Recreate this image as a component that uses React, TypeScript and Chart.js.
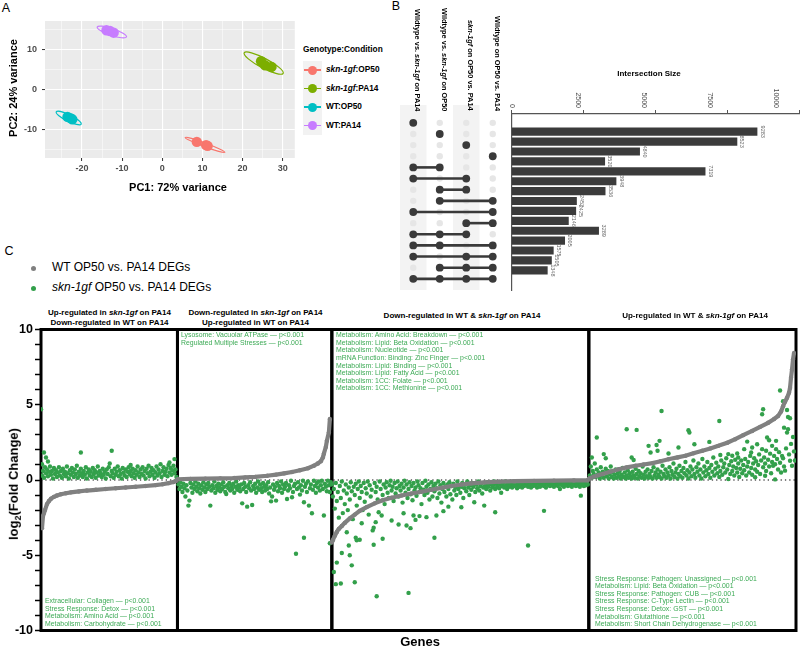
import React, { useEffect, useRef } from "react";
import { Chart, registerables } from "chart.js";

Chart.register(...registerables);

const FONT = '"Liberation Sans", Arial, Helvetica, sans-serif';

// ---------------- Panel A : PCA ----------------
const PCA_GROUPS = ["skn-1gf:OP50", "skn-1gf:PA14", "WT:OP50", "WT:PA14"];
const PCA_COLORS = ["#F8766D", "#7CAE00", "#00BFC4", "#C77CFF"];
const PCA_PC1 = [
  [8.6, 10.9, 11.3],
  [24.6, 25.6, 27.2],
  [-23.6, -22.9, -22.4],
  [-13.9, -13.0, -12.1],
];
const PCA_PC2 = [
  [-13.0, -13.8, -14.0],
  [7.0, 6.0, 5.6],
  [-6.8, -7.1, -7.4],
  [14.7, 14.5, 14.1],
];
// confidence ellipses: major-axis end points and half minor width (data units)
const ELLIPSE_X1 = [5.7, 20.4, -26.4, -16.2];
const ELLIPSE_Y1 = [-11.9, 9.1, -5.55, 15.5];
const ELLIPSE_X2 = [15.6, 30.1, -20.2, -8.9];
const ELLIPSE_Y2 = [-15.6, 4.0, -8.6, 13.05];
const ELLIPSE_HALF_WIDTH = [0.45, 1.2, 0.8, 0.85];
const PC1_RANGE = [-29.2, 33];
const PC2_RANGE = [-17, 17];

// ---------------- Panel B : UpSet ----------------
const SET_NAMES = [
  "Wildtype vs. skn-1gf on PA14",
  "Wildtype vs. skn-1gf on OP50",
  "skn-1gf on OP50 vs. PA14",
  "Wildtype on OP50 vs. PA14",
];
const INTERSECTION_SIZES = [9283, 8523, 4840, 3520, 7319, 3948, 3536, 2452, 2425, 2146, 3289, 2005, 1575, 1505, 1348];
const INTERSECTION_SETS = [
  [1], [2], [3], [4],
  [1, 2], [1, 3], [2, 3], [2, 4], [1, 4], [3, 4],
  [1, 2, 3], [1, 2, 4], [1, 3, 4], [2, 3, 4], [1, 2, 3, 4],
];
const SIZE_TICKS = [0, 2500, 5000, 7500, 10000];

// ---------------- Panel C : DEG rank plot ----------------
const REGION_BOUNDS = [0, 137, 292, 550, 758];
const REGION_TITLES = [
  ["Up-regulated in skn-1gf on PA14", "Down-regulated in WT on PA14"],
  ["Down-regulated in skn-1gf on PA14", "Up-regulated in WT on PA14"],
  ["Down-regulated in WT & skn-1gf on PA14"],
  ["Up-regulated in WT & skn-1gf on PA14"],
];
const REGION_TERMS = [
  ["Extracellular: Collagen — p<0.001", "Stress Response: Detox — p<0.001", "Metabolism: Amino Acid — p<0.001", "Metabolism: Carbohydrate — p<0.001"],
  ["Lysosome: Vacuolar ATPase — p<0.001", "Regulated Multiple Stresses — p<0.001"],
  [
    "Metabolism: Amino Acid: Breakdown — p<0.001",
    "Metabolism: Lipid: Beta Oxidation — p<0.001",
    "Metabolism: Nucleotide — p<0.001",
    "mRNA Function: Binding: Zinc Finger — p<0.001",
    "Metabolism: Lipid: Binding — p<0.001",
    "Metabolism: Lipid: Fatty Acid — p<0.001",
    "Metabolism: 1CC: Folate — p<0.001",
    "Metabolism: 1CC: Methionine — p<0.001",
  ],
  [
    "Stress Response: Pathogen: Unassigned — p<0.001",
    "Metabolism: Lipid: Beta Oxidation — p<0.001",
    "Stress Response: Pathogen: CUB — p<0.001",
    "Stress Response: C-Type Lectin — p<0.001",
    "Stress Response: Detox: GST — p<0.001",
    "Metabolism: Glutathione — p<0.001",
    "Metabolism: Short Chain Dehydrogenase — p<0.001",
  ],
];

// WT OP50 vs PA14 (gray, sorted) : [gene rank, log2FC]
const WT_R1 = [[1,-3.2],[2,-2.4],[3,-2.2],[4,-2.0],[6,-1.6],[8,-1.4],[10,-1.25],[13,-1.12],[16,-1.03],[20,-0.95],[25,-0.88],[30,-0.82],[38,-0.76],[46,-0.7],[55,-0.65],[65,-0.6],[75,-0.55],[85,-0.5],[95,-0.45],[105,-0.4],[115,-0.34],[122,-0.28],[128,-0.21],[133,-0.13],[136,-0.05]];
const WT_R2 = [[137,0.05],[150,0.07],[165,0.09],[180,0.11],[194,0.13],[205,0.17],[215,0.21],[227,0.28],[236,0.36],[244,0.44],[252,0.53],[260,0.65],[268,0.78],[274,0.95],[278,1.1],[281,1.25],[283,1.5],[284,1.75],[286,2.2],[287,2.6],[289,3.15],[290,4.05]];
const WT_R3 = [[292,-4.15],[293,-4.0],[295,-3.7],[297,-3.45],[299,-3.25],[302,-3.05],[305,-2.85],[310,-2.55],[315,-2.3],[320,-2.05],[327,-1.8],[335,-1.55],[343,-1.35],[352,-1.18],[362,-1.03],[372,-0.9],[382,-0.78],[392,-0.65],[402,-0.52],[412,-0.4],[422,-0.3],[432,-0.22],[445,-0.16],[460,-0.11],[475,-0.08],[495,-0.06],[515,-0.04],[535,-0.03],[549,-0.02]];
const WT_R4 = [[550,0.08],[555,0.22],[560,0.33],[564,0.4],[572,0.56],[580,0.72],[588,0.84],[597,0.95],[605,1.03],[614,1.12],[622,1.25],[630,1.38],[639,1.5],[647,1.61],[655,1.77],[664,1.94],[672,2.1],[680,2.27],[689,2.48],[697,2.71],[705,2.98],[714,3.26],[722,3.53],[730,3.8],[736,4.05],[740,4.25],[743,4.55],[745,4.9],[747,5.2],[749,5.46],[751,5.8],[752,6.12],[753,6.8],[754,7.34],[755,8.0],[756,8.44]];

// skn-1gf OP50 vs PA14 (green)
const GF_R1 = [[0,4.7],[1,0.3],[1,1.05],[2,0.6],[3,1.83],[3,0.15],[4,0.85],[5,1.5],[5,0.45],[6,0.7],[7,1.23],[7,0.25],[8,0.55],[9,0.9],[10,0.35],[11,0.6],[12,0.1],[13,0.8],[14,0.4],[15,0.65],[16,0.2],[17,0.5],[18,0.85],[19,0.3],[20,0.6],[21,0.15],[22,0.75],[23,0.4],[24,0.55],[25,0.25],[26,0.9],[27,0.45],[28,0.1],[29,0.65],[30,0.35],[31,0.8],[32,0.5],[33,0.2],[34,0.7],[35,0.4],[36,0.95],[37,0.15],[38,0.55],[39,0.3],[40,1.83],[40,0.75],[41,0.45],[42,0.2],[43,0.6],[44,0.35],[45,0.85],[46,0.1],[47,0.5],[48,0.7],[49,0.3],[50,0.55],[51,0.2],[52,0.8],[53,0.4],[54,0.65],[55,0.15],[56,0.5],[57,0.9],[58,0.3],[59,0.6],[60,0.45],[61,0.2],[62,0.75],[63,0.35],[64,0.55],[65,0.1],[66,0.7],[67,0.4],[68,0.85],[69,1.1],[70,0.25],[71,1.94],[71,0.6],[72,0.45],[73,0.15],[74,0.75],[75,0.35],[76,0.55],[77,0.9],[78,0.25],[79,0.65],[80,0.4],[81,0.1],[82,0.8],[83,0.5],[84,0.3],[85,0.7],[86,0.2],[87,0.55],[88,0.85],[89,0.4],[90,1.0],[90,0.6],[91,0.25],[92,0.75],[93,0.45],[94,0.15],[95,0.65],[96,0.35],[97,0.9],[98,0.5],[99,0.2],[100,0.7],[101,0.4],[102,0.85],[103,0.3],[104,0.6],[105,0.1],[106,0.75],[107,0.45],[108,0.95],[109,0.25],[110,0.55],[111,0.8],[112,0.35],[113,0.65],[114,0.15],[115,0.5],[116,0.9],[117,0.3],[118,0.7],[119,0.45],[120,1.05],[121,0.2],[122,0.6],[123,0.85],[124,0.35],[125,0.55],[126,0.75],[127,0.25],[128,1.0],[129,1.16],[129,0.5],[130,0.8],[131,0.35],[132,0.65],[133,0.95],[134,1.39],[134,0.45],[135,0.7],[136,0.2]];
const GF_R2 = [[138,-0.3],[139,-0.6],[140,-0.15],[141,-0.45],[142,-0.8],[143,-0.25],[144,-0.55],[145,-1.1],[146,-0.35],[147,-0.7],[148,-1.7],[149,-1.37],[150,-0.2],[151,-0.5],[152,-0.85],[153,-0.3],[154,-0.6],[155,-0.1],[156,-0.45],[157,-0.75],[158,-0.25],[159,-0.55],[160,-0.9],[161,-0.35],[162,-0.65],[163,-0.15],[164,-0.5],[165,-0.8],[166,-0.3],[167,-0.6],[168,-0.2],[169,-0.45],[170,-1.7],[171,-0.7],[172,-0.35],[173,-0.55],[174,-0.1],[175,-0.85],[176,-0.4],[177,-0.65],[178,-0.25],[179,-0.5],[180,-0.75],[181,-0.3],[182,-0.6],[183,-0.15],[184,-0.45],[185,-0.8],[186,-0.93],[187,-0.35],[188,-0.55],[189,-0.2],[190,-0.7],[191,-0.4],[192,-0.6],[193,-0.25],[194,-0.85],[195,-0.45],[196,-0.1],[197,-0.65],[198,-0.35],[199,-0.5],[200,-0.75],[201,-0.3],[202,-1.55],[203,-0.6],[204,-0.2],[205,-0.45],[206,-0.8],[207,-1.77],[208,-0.35],[209,-0.55],[210,-0.15],[211,-0.7],[212,-1.66],[213,-0.4],[214,-0.6],[215,-0.25],[216,-0.85],[217,-0.5],[218,-0.1],[219,-0.65],[220,-0.3],[221,-0.55],[222,-0.8],[223,-0.2],[224,-0.45],[225,-0.7],[226,-0.35],[227,-0.6],[228,-0.15],[229,-0.9],[230,-0.5],[231,-1.42],[232,-1.1],[233,-0.3],[234,-0.65],[235,-0.45],[236,-1.37],[237,-0.2],[238,-0.75],[239,-0.4],[240,-0.55],[241,-0.1],[242,-0.85],[243,-0.3],[244,-0.6],[245,-0.45],[246,-0.2],[247,-1.26],[248,-0.7],[249,-0.35],[250,-0.55],[251,-0.05],[252,-1.15],[253,-0.8],[254,-0.4],[255,-0.25],[256,-4.9],[257,-0.6],[258,-0.15],[259,-0.5],[260,-0.97],[261,-0.35],[262,-0.7],[263,-0.05],[264,-3.84],[264,-1.48],[265,-0.45],[266,-0.25],[267,-0.8],[268,-0.1],[269,-1.7],[270,-0.55],[271,-0.3],[272,-2.21],[273,-0.65],[274,-0.05],[275,-0.4],[276,-0.85],[277,-0.2],[278,-0.5],[279,-0.1],[280,-0.7],[281,-0.35],[282,-0.05],[283,-0.6],[284,-2.36],[285,-0.25],[286,-0.45],[287,-0.75],[288,-0.05],[289,-0.35],[290,-4.2],[290,-0.8],[291,-0.15]];
const GF_R3 = [[292,-0.3],[293,-1.1],[294,-6.11],[294,-0.6],[295,-1.9],[296,-6.92],[296,-0.2],[297,-5.49],[297,-1.4],[298,-0.8],[299,-2.5],[300,-0.4],[301,-6.88],[301,-1.2],[302,-4.85],[302,-0.1],[303,-2.2],[304,-0.7],[305,-1.6],[306,-0.3],[307,-3.47],[307,-0.9],[308,-2.0],[309,-4.35],[309,-0.5],[310,-5.0],[310,-1.3],[311,-0.15],[312,-5.67],[312,-0.75],[313,-2.6],[314,-0.45],[315,-6.79],[315,-1.0],[316,-3.84],[316,-0.25],[317,-4.01],[317,-1.7],[318,-0.6],[319,-0.1],[320,-3.97],[320,-1.2],[321,-0.4],[322,-2.87],[322,-0.8],[323,-2.0],[324,-0.2],[325,-1.45],[326,-0.55],[327,-0.9],[328,-0.1],[329,-2.3],[330,-0.35],[331,-1.1],[332,-0.65],[333,-3.35],[334,-4.3],[334,-3.17],[335,-0.2],[336,-2.8],[336,-0.8],[337,-7.72],[337,-0.45],[338,-1.3],[339,-2.14],[340,-0.1],[341,-0.6],[342,-2.36],[343,-3.9],[343,-1.0],[344,-0.3],[345,-1.6],[346,-0.5],[347,-0.15],[348,-0.85],[349,-1.2],[350,-0.35],[351,-0.05],[352,-2.69],[352,-0.7],[353,-0.45],[354,-1.4],[355,-0.2],[356,-0.9],[357,-0.55],[358,-0.1],[359,-2.96],[359,-1.1],[360,-0.4],[361,-0.7],[362,-0.25],[363,-1.5],[364,-2.21],[364,-0.5],[365,-0.05],[366,-0.85],[367,-3.02],[367,-0.3],[368,-1.2],[369,-7.5],[369,-0.6],[370,-0.15],[371,-3.2],[371,-0.95],[372,-0.4],[373,-1.35],[374,-2.36],[374,-0.2],[375,-0.7],[376,-2.65],[376,-0.5],[377,-1.05],[378,-0.1],[379,-0.35],[380,-2.4],[380,-0.8],[381,-0.55],[382,-1.6],[383,-0.2],[384,-0.65],[385,-1.0],[386,-0.05],[387,-2.47],[387,-0.45],[388,-0.85],[389,-0.3],[390,-1.3],[391,-0.6],[392,-0.15],[393,-1.1],[394,-0.4],[395,-3.84],[395,-0.75],[396,-0.25],[397,-2.36],[397,-0.55],[398,-1.2],[399,-0.1],[400,-0.9],[401,-0.35],[402,-1.5],[403,-0.6],[404,-2.07],[404,-0.2],[405,-0.8],[406,-0.45],[407,-1.1],[408,-0.3],[409,-1.77],[409,-0.6],[410,-0.15],[411,-0.95],[412,-0.4],[413,-1.3],[414,-0.25],[415,-0.7],[416,-0.5],[417,-1.0],[418,-0.1],[419,-0.6],[420,-0.35],[421,-0.85],[422,-1.81],[422,-0.45],[423,-0.2],[424,-1.2],[425,-0.55],[426,-0.3],[427,-0.75],[428,-0.1],[429,-0.5],[430,-1.0],[431,-0.35],[432,-0.65],[433,-0.2],[434,-0.45],[435,-1.48],[436,-0.8],[437,-0.3],[438,-0.55],[439,-0.1],[440,-0.7],[441,-0.4],[442,-0.25],[443,-0.9],[444,-0.5],[445,-1.7],[446,-0.35],[447,-0.6],[448,-0.15],[449,-0.45],[450,-0.3],[451,-0.7],[452,-0.2],[453,-0.5],[454,-0.35],[455,-0.1],[456,-2.14],[456,-0.6],[457,-0.25],[458,-0.45],[459,-0.15],[460,-0.55],[461,-0.3],[462,-0.85],[463,-0.4],[464,-0.2],[465,-0.5],[466,-0.1],[467,-0.35],[468,-0.6],[469,-0.25],[470,-0.45],[471,-0.15],[472,-0.3],[473,-0.5],[474,-0.2],[475,-0.4],[476,-0.1],[477,-0.35],[478,-0.55],[479,-0.25],[480,-0.45],[481,-0.15],[482,-0.3],[483,-0.5],[484,-0.2],[485,-0.4],[486,-0.1],[487,-0.35],[488,-0.25],[489,-4.35],[489,-0.45],[490,-0.15],[491,-0.3],[492,-0.5],[493,-0.2],[494,-0.4],[495,-0.1],[496,-0.35],[497,-0.25],[498,-0.5],[499,-0.15],[500,-0.3],[501,-0.45],[502,-0.2],[503,-0.35],[504,-0.1],[505,-2.05],[505,-0.4],[506,-0.25],[507,-0.5],[508,-0.15],[509,-0.3],[510,-0.2],[511,-0.4],[512,-0.1],[513,-0.35],[514,-0.25],[515,-0.45],[516,-0.15],[517,-0.3],[518,-0.2],[519,-0.4],[520,-0.1],[521,-0.6],[522,-0.25],[523,-0.35],[524,-0.15],[525,-0.45],[526,-0.2],[527,-0.3],[528,-0.1],[529,-0.4],[530,-0.25],[531,-0.35],[532,-0.15],[533,-0.45],[534,-0.2],[535,-0.3],[536,-0.1],[537,-0.4],[538,-0.25],[539,-0.35],[540,-0.15],[541,-0.45],[542,-1.04],[542,-0.2],[543,-0.3],[544,-0.1],[545,-0.4],[546,-0.25],[547,-0.35],[548,-0.15],[549,-0.3]];
const GF_R4 = [[551,0.3],[552,0.9],[553,1.5],[553,0.15],[554,0.6],[555,0.4],[556,1.1],[557,0.2],[558,2.82],[558,0.7],[559,0.35],[560,0.5],[561,0.1],[562,0.85],[563,0.3],[564,0.55],[565,1.72],[565,0.15],[566,0.45],[567,1.45],[567,0.75],[568,0.25],[569,0.6],[570,0.1],[571,0.4],[572,0.9],[573,0.2],[574,0.5],[575,0.1],[576,0.35],[577,0.7],[578,0.15],[579,0.45],[580,0.25],[581,0.6],[582,0.1],[583,0.35],[584,0.8],[585,0.2],[586,0.5],[587,0.1],[588,3.37],[588,0.3],[589,0.65],[590,0.15],[591,0.45],[592,0.25],[593,1.5],[593,0.1],[594,0.55],[595,1.33],[595,0.3],[596,0.15],[597,0.75],[598,3.33],[598,0.4],[599,0.1],[600,0.6],[601,0.25],[602,0.45],[603,0.15],[604,0.9],[605,0.35],[606,0.1],[607,0.55],[608,0.25],[609,0.7],[610,2.27],[610,0.15],[611,0.4],[612,1.83],[612,0.2],[613,0.6],[614,0.1],[615,0.85],[616,0.3],[617,0.5],[618,2.33],[618,0.15],[619,1.94],[619,0.7],[620,0.35],[621,2.6],[621,0.2],[622,0.55],[623,4.58],[623,0.1],[624,0.95],[625,0.4],[626,0.25],[627,0.7],[628,0.15],[629,0.5],[630,1.76],[630,0.3],[631,0.85],[632,0.1],[633,0.6],[634,0.35],[635,1.1],[636,0.2],[637,0.5],[638,0.75],[639,0.1],[640,2.16],[640,0.4],[641,0.95],[642,0.25],[643,0.6],[644,0.15],[645,0.8],[646,0.45],[647,1.2],[648,0.3],[649,0.65],[650,3.31],[650,0.1],[651,3.16],[651,0.5],[652,0.9],[653,0.25],[654,0.7],[655,1.3],[656,2.38],[656,0.4],[657,0.15],[658,0.85],[659,0.55],[660,1.1],[661,0.3],[662,0.7],[663,0.1],[664,1.4],[665,0.5],[666,0.9],[667,0.25],[668,0.65],[669,1.2],[670,0.4],[671,2.53],[671,0.8],[672,0.15],[673,1.0],[674,0.55],[675,1.5],[676,0.3],[677,0.75],[678,1.15],[679,0.45],[680,0.9],[681,3.92],[681,0.2],[682,1.66],[682,0.6],[683,1.3],[684,0.35],[685,0.85],[686,1.1],[687,0.5],[688,1.45],[689,0.7],[690,1.72],[690,0.07],[691,1.0],[692,0.4],[693,1.25],[694,1.61],[694,0.6],[695,0.9],[696,0.3],[697,1.35],[698,0.8],[699,1.76],[699,0.5],[700,1.5],[700,1.1],[701,0.2],[702,0.75],[703,1.3],[704,0.45],[705,1.0],[706,2.05],[706,0.65],[707,1.4],[708,0.3],[709,2.55],[709,0.9],[710,1.2],[711,0.5],[712,1.6],[713,1.83],[713,0.8],[714,2.16],[714,0.35],[715,1.1],[716,1.45],[717,0.18],[717,0.7],[718,1.25],[719,2.38],[719,0.55],[720,1.0],[721,1.7],[722,0.4],[723,1.3],[724,2.05],[724,4.37],[725,4.7],[725,0.85],[726,1.5],[727,0.28],[727,1.1],[728,1.94],[728,0.6],[729,2.82],[730,1.35],[731,2.64],[731,0.9],[732,1.75],[733,0.45],[734,2.27],[734,1.2],[735,0.95],[736,1.6],[737,0.04],[737,1.05],[738,2.6],[738,2.05],[739,1.4],[740,0.7],[741,1.85],[742,5.95],[742,1.15],[743,0.5],[744,1.6],[745,5.24],[745,1.45],[746,3.48],[746,0.9],[747,0.62],[748,2.1],[749,4.65],[749,3.15],[750,4.19],[750,3.37],[751,1.7],[752,1.28],[752,4.1],[753,2.4],[754,0.95],[755,2.86],[756,1.9],[757,1.3]];

const WT_REGIONS = [WT_R1, WT_R2, WT_R3, WT_R4];
const GF_REGIONS = [GF_R1, GF_R2, GF_R3, GF_R4];

const GRAY = "#808080";
const GREEN = "#33A04B";
const TEXT_GREEN = "#3CAA55";

// ---------------- helpers ----------------
function Ital({ text }: { text: string }) {
  const parts = text.split("skn-1gf");
  const out: any[] = [];
  parts.forEach((p, i) => {
    if (i > 0) out.push(<i key={"i" + i}>skn-1gf</i>);
    out.push(<span key={"s" + i}>{p}</span>);
  });
  return <>{out}</>;
}

function Label(props: any) {
  const { x, y, size, bold, color = "#000", anchor = "center", rot = 0, children, lh } = props;
  const tx = anchor === "left" ? "0%" : anchor === "right" ? "-100%" : "-50%";
  return (
    <div
      style={{
        position: "absolute",
        left: x,
        top: y,
        transform: `translate(${tx}, -50%) rotate(${rot}deg)`,
        fontFamily: FONT,
        fontSize: size,
        fontWeight: bold ? 700 : 400,
        color,
        whiteSpace: "nowrap",
        lineHeight: lh ? lh + "px" : 1.15,
        textAlign: anchor === "center" ? "center" : anchor,
      }}
    >
      {children}
    </div>
  );
}

function ChartCanvas({ left, top, width, height, make }: any) {
  const ref = useRef<HTMLCanvasElement | null>(null);
  useEffect(() => {
    if (!ref.current) return;
    const chart = new Chart(ref.current, make());
    return () => chart.destroy();
  }, []);
  return (
    <canvas
      ref={ref}
      width={width}
      height={height}
      style={{ position: "absolute", left, top, width, height }}
    />
  );
}

// ---------------- Panel A config ----------------
const pcaPlugin = {
  id: "pcaDecor",
  beforeDraw(chart: any) {
    const { ctx, chartArea: a } = chart;
    ctx.save();
    ctx.fillStyle = "#EBEBEB";
    ctx.fillRect(a.left, a.top, a.right - a.left, a.bottom - a.top);
    ctx.restore();
  },
  beforeDatasetsDraw(chart: any) {
    const { ctx } = chart;
    const xs = chart.scales.x;
    const ys = chart.scales.y;
    const unit = Math.abs(xs.getPixelForValue(1) - xs.getPixelForValue(0));
    ctx.save();
    PCA_GROUPS.forEach((_g, i) => {
      const x1 = xs.getPixelForValue(ELLIPSE_X1[i]);
      const y1 = ys.getPixelForValue(ELLIPSE_Y1[i]);
      const x2 = xs.getPixelForValue(ELLIPSE_X2[i]);
      const y2 = ys.getPixelForValue(ELLIPSE_Y2[i]);
      const cx = (x1 + x2) / 2;
      const cy = (y1 + y2) / 2;
      const rx = Math.hypot(x2 - x1, y2 - y1) / 2;
      const ry = ELLIPSE_HALF_WIDTH[i] * unit;
      const ang = Math.atan2(y2 - y1, x2 - x1);
      ctx.beginPath();
      ctx.ellipse(cx, cy, rx, ry, ang, 0, Math.PI * 2);
      ctx.strokeStyle = PCA_COLORS[i];
      ctx.lineWidth = 1.2;
      ctx.stroke();
    });
    ctx.restore();
  },
};

const isMajor10 = (c: any) => c.tick && Math.abs(c.tick.value % 10) < 1e-9;

function makePca() {
  return {
    type: "scatter",
    data: {
      datasets: PCA_GROUPS.map((g, i) => ({
        label: g,
        data: PCA_PC1[i].map((x, j) => ({ x, y: PCA_PC2[i][j] })),
        backgroundColor: PCA_COLORS[i],
        pointRadius: 5.2,
        pointBorderWidth: 0,
      })),
    },
    options: {
      responsive: false,
      animation: false,
      events: [],
      layout: { padding: { left: 0, right: 5, top: 21, bottom: 0 } },
      plugins: { legend: { display: false }, tooltip: { enabled: false } },
      scales: {
        x: {
          type: "linear",
          min: PC1_RANGE[0],
          max: PC1_RANGE[1],
          border: { display: false },
          grid: {
            color: "#FFFFFF",
            lineWidth: (c: any) => (isMajor10(c) ? 1.1 : 0.5),
            drawTicks: true,
            tickLength: 3,
            tickWidth: 1,
            tickColor: (c: any) => (isMajor10(c) ? "#333333" : "rgba(0,0,0,0)"),
          },
          ticks: {
            stepSize: 5,
            includeBounds: false,
            autoSkip: false,
            maxRotation: 0,
            padding: 2,
            color: "#4D4D4D",
            font: { family: FONT, size: 9, weight: "bold" },
            callback: (v: any) => (Math.abs(v % 10) < 1e-9 ? String(v) : ""),
          },
          afterFit: (s: any) => {
            s.height = 42;
          },
        },
        y: {
          type: "linear",
          min: PC2_RANGE[0],
          max: PC2_RANGE[1],
          border: { display: false },
          grid: {
            color: "#FFFFFF",
            lineWidth: (c: any) => (isMajor10(c) ? 1.1 : 0.5),
            drawTicks: true,
            tickLength: 3,
            tickWidth: 1,
            tickColor: (c: any) => (isMajor10(c) ? "#333333" : "rgba(0,0,0,0)"),
          },
          ticks: {
            stepSize: 5,
            includeBounds: false,
            autoSkip: false,
            padding: 5,
            color: "#4D4D4D",
            font: { family: FONT, size: 9, weight: "bold" },
            callback: (v: any) => (Math.abs(v % 10) < 1e-9 ? String(v) : ""),
          },
          afterFit: (s: any) => {
            s.width = 45;
          },
        },
      },
    },
    plugins: [pcaPlugin],
  };
}

// ---------------- Panel B configs ----------------
const matrixPlugin = {
  id: "matrixStripes",
  beforeDatasetsDraw(chart: any) {
    const { ctx, chartArea: a } = chart;
    const xs = chart.scales.x;
    ctx.save();
    ctx.fillStyle = "#F3F3F3";
    SET_NAMES.forEach((_n, i) => {
      if (i % 2 === 0) {
        const l = xs.getPixelForValue(i + 0.5);
        const r = xs.getPixelForValue(i + 1.5);
        ctx.fillRect(l, a.top, r - l, a.bottom - a.top);
      }
    });
    ctx.restore();
  },
};

function makeMatrix() {
  const bg: any[] = [];
  INTERSECTION_SETS.forEach((_s, r) => {
    SET_NAMES.forEach((_n, c) => bg.push({ x: c + 1, y: r + 1 }));
  });
  const active: any[] = [];
  INTERSECTION_SETS.forEach((s, r) => s.forEach((c) => active.push({ x: c, y: r + 1 })));
  const lines = INTERSECTION_SETS.filter((s) => s.length > 1).map((s) => {
    const r = INTERSECTION_SETS.indexOf(s) + 1;
    return {
      type: "line",
      data: [
        { x: Math.min(...s), y: r },
        { x: Math.max(...s), y: r },
      ],
      borderColor: "#3A3A3A",
      borderWidth: 2.6,
      pointRadius: 0,
      order: 1,
    };
  });
  return {
    type: "scatter",
    data: {
      datasets: [
        { data: bg, backgroundColor: "#E6E6E6", pointRadius: 3.2, pointBorderWidth: 0, order: 2 },
        ...lines,
        { data: active, backgroundColor: "#3A3A3A", pointRadius: 3.9, pointBorderWidth: 0, order: 0 },
      ],
    },
    options: {
      responsive: false,
      animation: false,
      events: [],
      layout: { padding: { left: 5, right: 3.3, top: 10, bottom: 5 } },
      plugins: { legend: { display: false }, tooltip: { enabled: false } },
      scales: {
        x: { type: "linear", min: 0.5, max: 4.5, display: false },
        y: { type: "linear", min: -0.6, max: 16, reverse: true, display: false },
      },
    },
    plugins: [matrixPlugin],
  };
}

const barLabelPlugin = {
  id: "barLabels",
  afterDraw(chart: any) {
    const { ctx, chartArea: a } = chart;
    const xs = chart.scales.x;
    const ys = chart.scales.y;
    ctx.save();
    ctx.fillStyle = "#4D4D4D";
    ctx.font = `7px ${FONT}`;
    ctx.textAlign = "right";
    ctx.textBaseline = "middle";
    SIZE_TICKS.forEach((v) => {
      ctx.save();
      ctx.translate(xs.getPixelForValue(v), a.top - 6);
      ctx.rotate(Math.PI / 2);
      ctx.fillText(String(v), 0, 0);
      ctx.restore();
    });
    ctx.fillStyle = "#666666";
    ctx.font = `5.5px ${FONT}`;
    ctx.textAlign = "center";
    INTERSECTION_SIZES.forEach((v, i) => {
      ctx.save();
      ctx.translate(xs.getPixelForValue(v) + 5, ys.getPixelForValue(i + 1));
      ctx.rotate(Math.PI / 2);
      ctx.fillText(String(v), 0, 0);
      ctx.restore();
    });
    ctx.restore();
  },
};

function makeBars() {
  return {
    type: "bar",
    data: {
      datasets: [
        {
          data: INTERSECTION_SIZES.map((v, i) => ({ x: v, y: i + 1 })),
          backgroundColor: "#3B3B3B",
          barThickness: 7.5,
        },
      ],
    },
    options: {
      indexAxis: "y",
      responsive: false,
      animation: false,
      events: [],
      layout: { padding: { left: 0, right: 1, top: 110, bottom: 5 } },
      plugins: { legend: { display: false }, tooltip: { enabled: false } },
      scales: {
        x: {
          type: "linear",
          position: "top",
          min: 0,
          max: 10870,
          ticks: { display: false, stepSize: 2500, includeBounds: false },
          grid: { drawOnChartArea: false, drawTicks: true, tickLength: 4, color: "#555555", tickWidth: 1 },
          border: { display: true, color: "#555555", width: 1.2 },
          afterFit: (s: any) => {
            s.height = 4;
          },
        },
        y: {
          type: "linear",
          min: 0.2,
          max: 16,
          reverse: true,
          ticks: { display: false },
          grid: { display: false },
          border: { display: true, color: "#555555", width: 1.2 },
          afterFit: (s: any) => {
            s.width = 11.7;
          },
        },
      },
    },
    plugins: [barLabelPlugin],
  };
}

// ---------------- Panel C config ----------------
const degPlugin = {
  id: "degDecor",
  beforeDatasetsDraw(chart: any) {
    const { ctx, chartArea: a } = chart;
    const xs = chart.scales.x;
    const ys = chart.scales.y;
    ctx.save();
    ctx.strokeStyle = "#000";
    ctx.lineWidth = 1.2;
    ctx.setLineDash([1.3, 3]);
    ctx.beginPath();
    ctx.moveTo(a.left, ys.getPixelForValue(0));
    ctx.lineTo(a.right, ys.getPixelForValue(0));
    ctx.stroke();
    ctx.setLineDash([]);
    ctx.lineWidth = 3;
    for (let i = 0; i < REGION_BOUNDS.length - 1; i++) {
      const l = xs.getPixelForValue(REGION_BOUNDS[i]);
      const r = xs.getPixelForValue(REGION_BOUNDS[i + 1]);
      const t = ys.getPixelForValue(10);
      const b = ys.getPixelForValue(-10);
      ctx.strokeRect(l, t, r - l, b - t);
    }
    ctx.restore();
  },
};

function makeDeg() {
  const datasets: any[] = [];
  WT_REGIONS.forEach((reg) => {
    datasets.push({
      data: reg.map(([x, y]) => ({ x, y })),
      showLine: true,
      borderColor: GRAY,
      borderWidth: 4.2,
      backgroundColor: GRAY,
      pointRadius: 2.2,
      pointBorderWidth: 0,
      tension: 0,
      order: 0,
    });
  });
  GF_REGIONS.forEach((reg) => {
    datasets.push({
      data: reg.map(([x, y]) => ({ x, y })),
      showLine: false,
      backgroundColor: GREEN,
      pointRadius: 2.2,
      pointBorderWidth: 0,
      order: 1,
    });
  });
  return {
    type: "scatter",
    data: { datasets },
    options: {
      responsive: false,
      animation: false,
      events: [],
      layout: { padding: { left: 0, right: 1, top: 8.3, bottom: 9.3 } },
      plugins: { legend: { display: false }, tooltip: { enabled: false } },
      scales: {
        x: { type: "linear", min: REGION_BOUNDS[0], max: REGION_BOUNDS[REGION_BOUNDS.length - 1], display: false },
        y: {
          type: "linear",
          min: -10,
          max: 10,
          border: { display: false },
          grid: { drawOnChartArea: false, drawTicks: true, tickLength: 6, tickColor: "#000", tickWidth: 1.5 },
          ticks: {
            stepSize: 1,
            autoSkip: false,
            padding: 2,
            color: "#000",
            font: { family: FONT, size: 12.5, weight: "bold" },
            callback: (v: any) => (Math.abs(v % 5) < 1e-9 ? String(v) : ""),
          },
          afterFit: (s: any) => {
            s.width = 41;
          },
        },
      },
    },
    plugins: [degPlugin],
  };
}

// ---------------- App ----------------
const TITLE_CENTERS = [109.5, 255.5, 462, 695];
const TERM_POS = [
  { x: 45, y: 597.2 },
  { x: 181, y: 331.2 },
  { x: 336, y: 331.2 },
  { x: 595, y: 574.6 },
];
const LEGEND_Y = [70, 88.5, 107, 125.5];
const COL_X = [413.3, 440, 466.7, 493.3];

export default function App() {
  return (
    <div
      style={{
        position: "absolute",
        left: 0,
        top: 0,
        width: 800,
        height: 647,
        background: "#fff",
        overflow: "hidden",
        fontFamily: FONT,
      }}
    >
      {/* Panel labels */}
      <Label x={6} y={7.5} size={12.5}>A</Label>
      <Label x={396} y={6} size={12.5}>B</Label>
      <Label x={9} y={251} size={12.5}>C</Label>

      {/* Panel A */}
      <ChartCanvas left={0} top={0} width={300} height={200} make={makePca} />
      <Label x={178} y={187} size={11} bold>PC1: 72% variance</Label>
      <Label x={13.3} y={87.5} size={11} bold rot={-90}>PC2: 24% variance</Label>
      <Label x={303} y={50} size={8.3} bold anchor="left">Genotype:Condition</Label>
      <div style={{ position: "absolute", left: 303, top: 61, width: 19, height: 74, background: "#F2F2F2" }} />
      {PCA_GROUPS.map((g, i) => (
        <React.Fragment key={g}>
          <div style={{ position: "absolute", left: 304, top: LEGEND_Y[i] - 0.6, width: 17, height: 1.2, background: PCA_COLORS[i] }} />
          <div style={{ position: "absolute", left: 308, top: LEGEND_Y[i] - 4.5, width: 9, height: 9, borderRadius: "50%", background: PCA_COLORS[i] }} />
          <Label x={326} y={LEGEND_Y[i]} size={8.3} bold anchor="left"><Ital text={g} /></Label>
        </React.Fragment>
      ))}

      {/* Panel B */}
      <ChartCanvas left={395} top={95} width={115} height={200} make={makeMatrix} />
      <ChartCanvas left={500} top={0} width={300} height={295} make={makeBars} />
      {SET_NAMES.map((n, i) => (
        <div
          key={n}
          style={{
            position: "absolute",
            left: COL_X[i] - 0.5,
            bottom: 647 - 111,
            writingMode: "vertical-rl",
            whiteSpace: "nowrap",
            fontSize: 7.4,
            fontWeight: 700,
            lineHeight: "8px",
            fontFamily: FONT,
            color: "#000",
          }}
        >
          <Ital text={n} />
        </div>
      ))}
      <Label x={649} y={74} size={8} bold>Intersection Size</Label>

      {/* Panel C */}
      <div style={{ position: "absolute", left: 30.5, top: 265.5, width: 5, height: 5, borderRadius: "50%", background: GRAY }} />
      <Label x={52} y={268} size={12} anchor="left">WT OP50 vs. PA14 DEGs</Label>
      <div style={{ position: "absolute", left: 30.5, top: 285.5, width: 5, height: 5, borderRadius: "50%", background: GREEN }} />
      <Label x={52} y={288} size={12} anchor="left"><Ital text="skn-1gf OP50 vs. PA14 DEGs" /></Label>

      {REGION_TITLES.map((lines, i) => (
        <Label key={"t" + i} x={TITLE_CENTERS[i]} y={lines.length > 1 ? 317.7 : 316} size={8} bold lh={10}>
          {lines.map((l, j) => (
            <div key={j}><Ital text={l} /></div>
          ))}
        </Label>
      ))}

      <ChartCanvas left={0} top={320} width={800} height={320} make={makeDeg} />

      {REGION_TERMS.map((terms, i) => (
        <div
          key={"g" + i}
          style={{
            position: "absolute",
            left: TERM_POS[i].x,
            top: TERM_POS[i].y,
            fontFamily: FONT,
            fontSize: 6.9,
            lineHeight: "7.6px",
            color: TEXT_GREEN,
            whiteSpace: "nowrap",
          }}
        >
          {terms.map((t, j) => (
            <div key={j}>{t}</div>
          ))}
        </div>
      ))}

      <Label x={15} y={484} size={13} bold rot={-90}>
        log<sub style={{ fontSize: 9, verticalAlign: "-3px" }}>2</sub>(Fold Change)
      </Label>
      <Label x={420} y={641.7} size={13} bold>Genes</Label>
    </div>
  );
}
